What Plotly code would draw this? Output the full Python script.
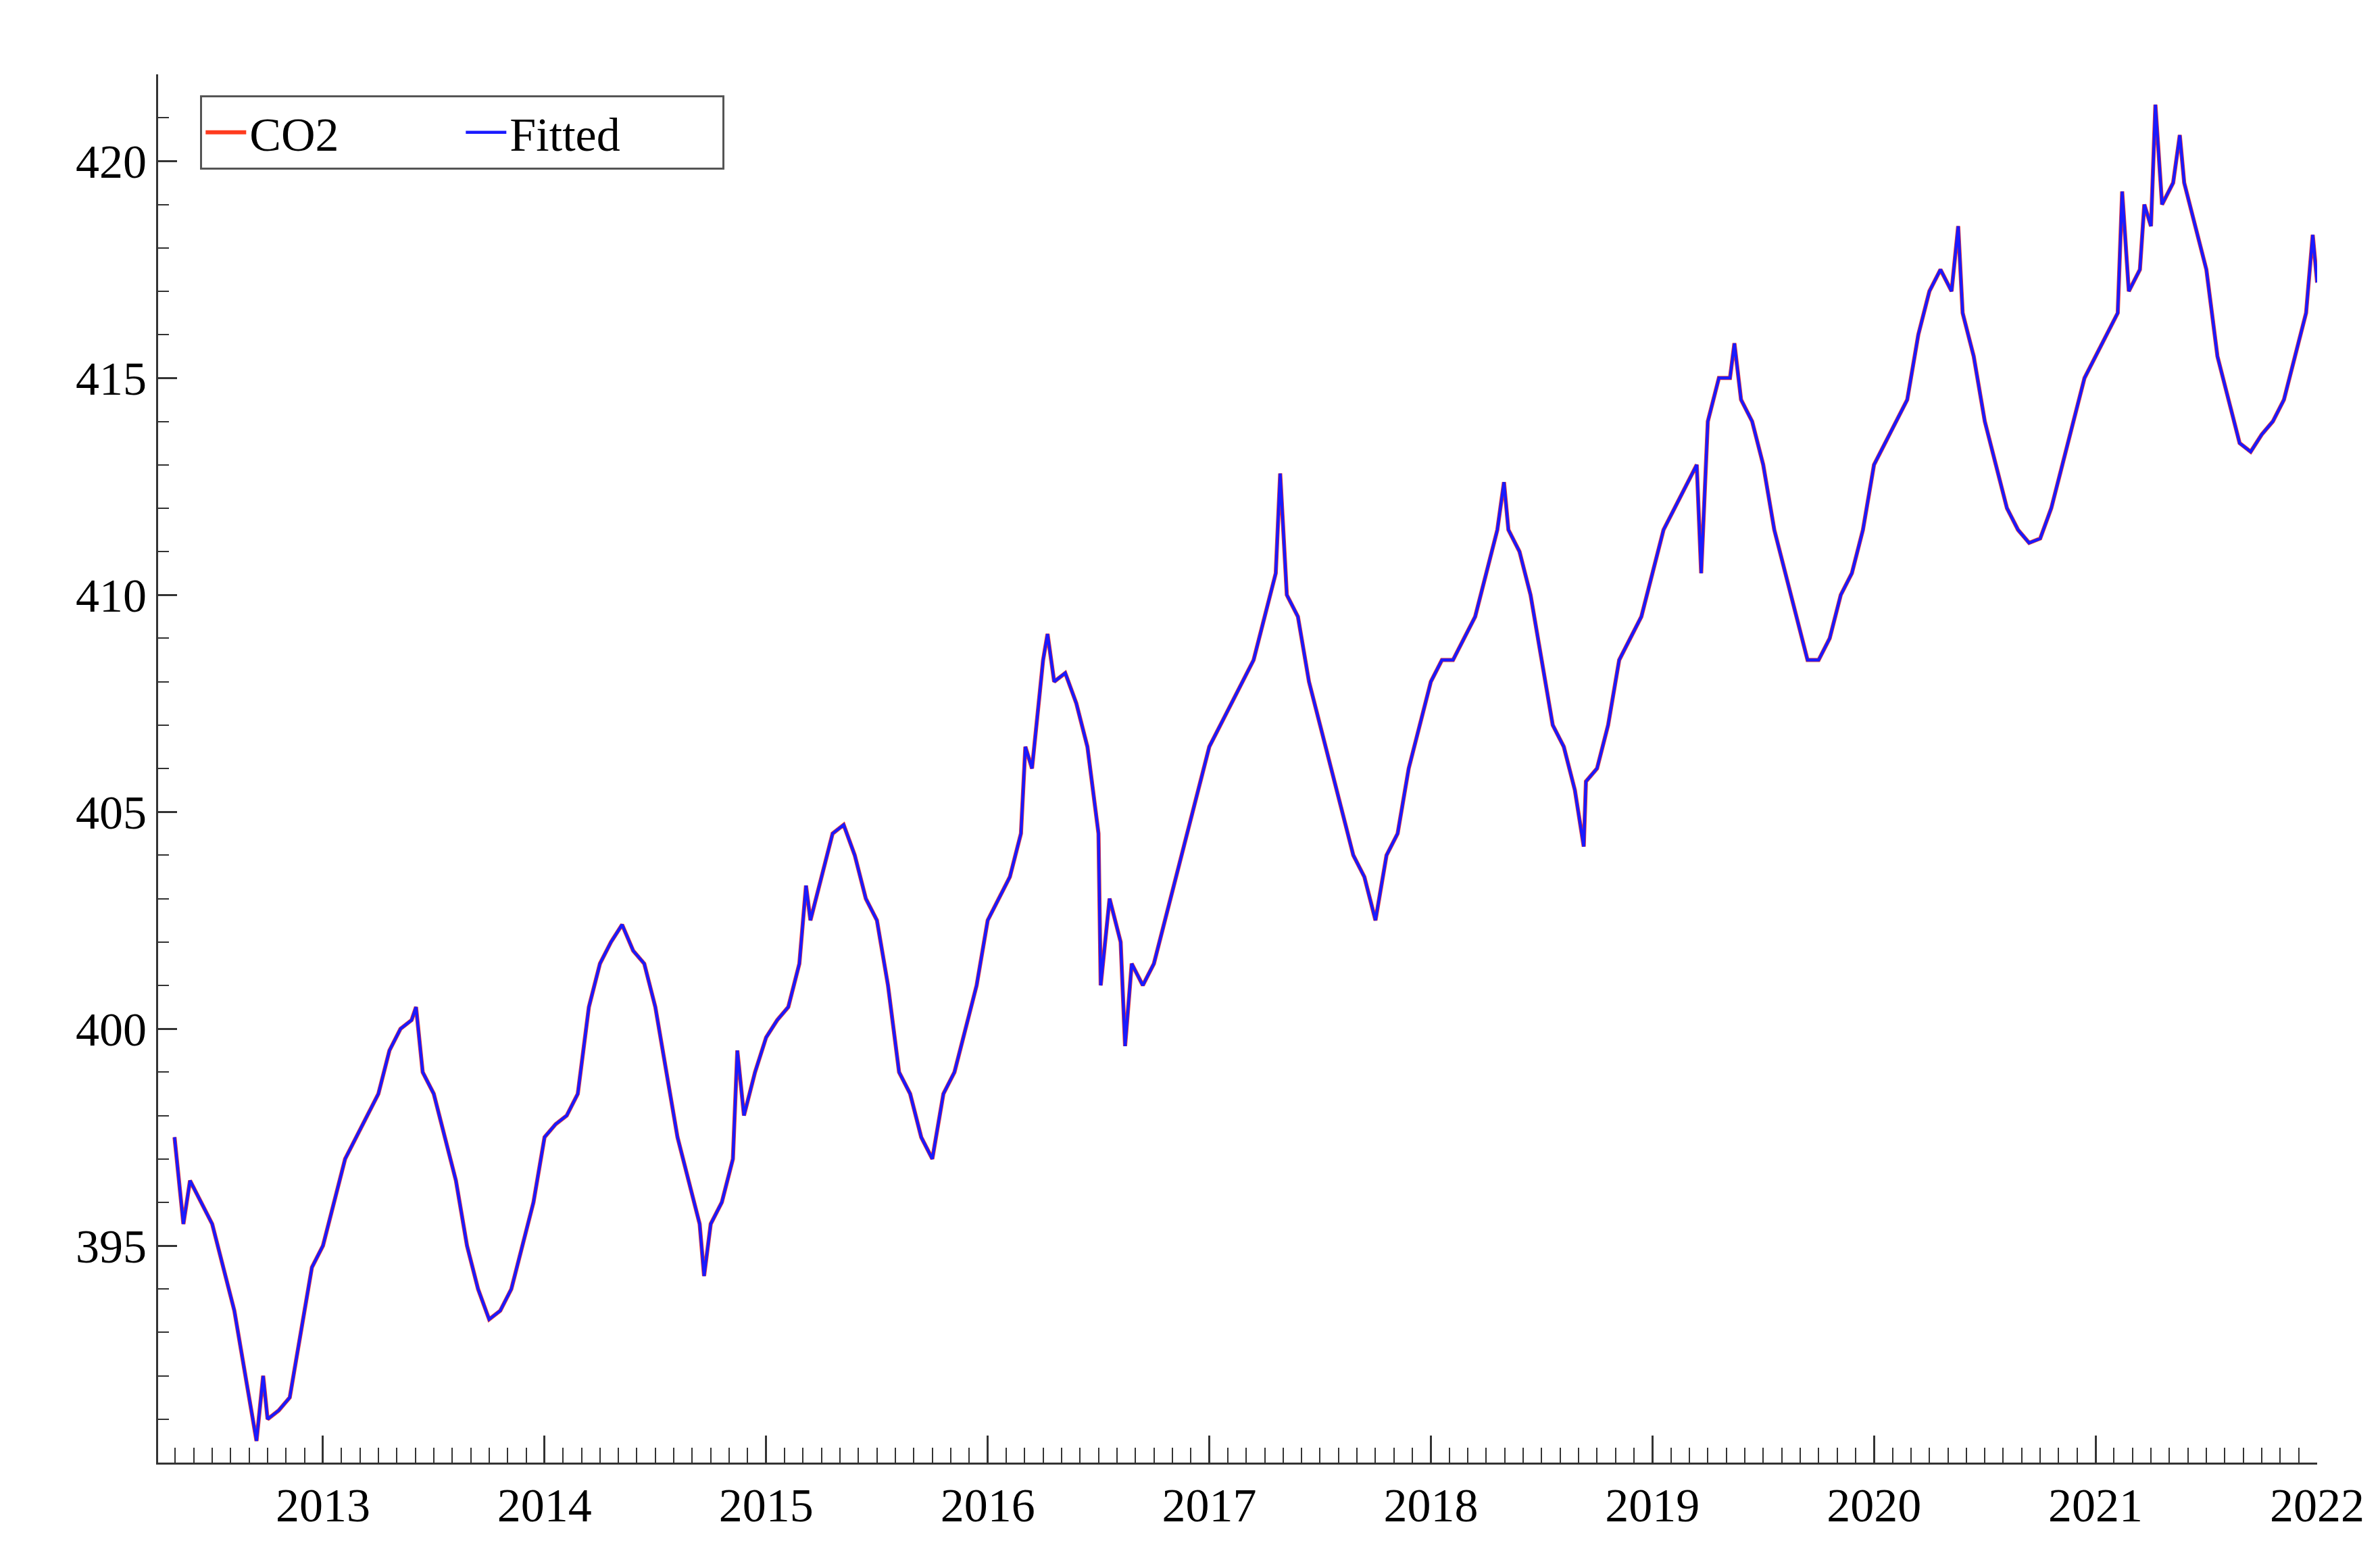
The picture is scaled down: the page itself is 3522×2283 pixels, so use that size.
import plotly.graph_objects as go

# weekly-ish CO2 readings (decimal year, ppm)
dates = [
    2012.33, 2012.37, 2012.40, 2012.45, 2012.50, 2012.55, 2012.60, 2012.65, 2012.70, 2012.73,
    2012.75, 2012.80, 2012.85, 2012.90, 2012.95, 2013.00, 2013.05, 2013.10, 2013.15, 2013.20,
    2013.25, 2013.30, 2013.35, 2013.40, 2013.42, 2013.45, 2013.50, 2013.55, 2013.60, 2013.65,
    2013.70, 2013.75, 2013.80, 2013.85, 2013.90, 2013.95, 2014.00, 2014.05, 2014.10, 2014.15,
    2014.20, 2014.25, 2014.30, 2014.35, 2014.40, 2014.45, 2014.50, 2014.55, 2014.60, 2014.65,
    2014.70, 2014.72, 2014.75, 2014.80, 2014.85, 2014.87, 2014.90, 2014.95, 2015.00, 2015.05,
    2015.10, 2015.15, 2015.18, 2015.20, 2015.25, 2015.30, 2015.35, 2015.40, 2015.45, 2015.50,
    2015.55, 2015.60, 2015.65, 2015.70, 2015.75, 2015.80, 2015.85, 2015.90, 2015.95, 2016.00,
    2016.05, 2016.10, 2016.15, 2016.17, 2016.20, 2016.25, 2016.27, 2016.30, 2016.35, 2016.40,
    2016.45, 2016.50, 2016.51, 2016.55, 2016.60, 2016.62, 2016.65, 2016.70, 2016.75, 2016.80,
    2016.85, 2016.90, 2016.95, 2017.00, 2017.05, 2017.10, 2017.15, 2017.20, 2017.25, 2017.30,
    2017.32, 2017.35, 2017.40, 2017.45, 2017.50, 2017.55, 2017.60, 2017.65, 2017.70, 2017.75,
    2017.80, 2017.85, 2017.90, 2017.95, 2018.00, 2018.05, 2018.10, 2018.15, 2018.20, 2018.25,
    2018.30, 2018.33, 2018.35, 2018.40, 2018.45, 2018.50, 2018.55, 2018.60, 2018.65, 2018.69,
    2018.70, 2018.75, 2018.80, 2018.85, 2018.90, 2018.95, 2019.00, 2019.05, 2019.10, 2019.15,
    2019.20, 2019.22, 2019.25, 2019.30, 2019.35, 2019.37, 2019.40, 2019.45, 2019.50, 2019.55,
    2019.60, 2019.65, 2019.70, 2019.75, 2019.80, 2019.85, 2019.90, 2019.95, 2020.00, 2020.05,
    2020.10, 2020.15, 2020.20, 2020.25, 2020.30, 2020.35, 2020.38, 2020.40, 2020.45, 2020.50,
    2020.55, 2020.60, 2020.65, 2020.70, 2020.75, 2020.80, 2020.85, 2020.90, 2020.95, 2021.00,
    2021.05, 2021.10, 2021.12, 2021.15, 2021.20, 2021.22, 2021.25, 2021.27, 2021.30, 2021.35,
    2021.38, 2021.40, 2021.45, 2021.50, 2021.55, 2021.60, 2021.65, 2021.70, 2021.75, 2021.80,
    2021.85, 2021.90, 2021.95, 2021.98, 2022.00,
]
co2 = [
    397.5, 395.5, 396.5, 396.0, 395.5, 394.5, 393.5, 392.0, 390.5, 392.0,
    391.0, 391.2, 391.5, 393.0, 394.5, 395.0, 396.0, 397.0, 397.5, 398.0,
    398.5, 399.5, 400.0, 400.2, 400.5, 399.0, 398.5, 397.5, 396.5, 395.0,
    394.0, 393.3, 393.5, 394.0, 395.0, 396.0, 397.5, 397.8, 398.0, 398.5,
    400.5, 401.5, 402.0, 402.4, 401.8, 401.5, 400.5, 399.0, 397.5, 396.5,
    395.5, 394.3, 395.5, 396.0, 397.0, 399.5, 398.0, 399.0, 399.8, 400.2,
    400.5, 401.5, 403.3, 402.5, 403.5, 404.5, 404.7, 404.0, 403.0, 402.5,
    401.0, 399.0, 398.5, 397.5, 397.0, 398.5, 399.0, 400.0, 401.0, 402.5,
    403.0, 403.5, 404.5, 406.5, 406.0, 408.5, 409.1, 408.0, 408.2, 407.5,
    406.5, 404.5, 401.0, 403.0, 402.0, 399.6, 401.5, 401.0, 401.5, 402.5,
    403.5, 404.5, 405.5, 406.5, 407.0, 407.5, 408.0, 408.5, 409.5, 410.5,
    412.8, 410.0, 409.5, 408.0, 407.0, 406.0, 405.0, 404.0, 403.5, 402.5,
    404.0, 404.5, 406.0, 407.0, 408.0, 408.5, 408.5, 409.0, 409.5, 410.5,
    411.5, 412.6, 411.5, 411.0, 410.0, 408.5, 407.0, 406.5, 405.5, 404.2,
    405.7, 406.0, 407.0, 408.5, 409.0, 409.5, 410.5, 411.5, 412.0, 412.5,
    413.0, 410.5, 414.0, 415.0, 415.0, 415.8, 414.5, 414.0, 413.0, 411.5,
    410.5, 409.5, 408.5, 408.5, 409.0, 410.0, 410.5, 411.5, 413.0, 413.5,
    414.0, 414.5, 416.0, 417.0, 417.5, 417.0, 418.5, 416.5, 415.5, 414.0,
    413.0, 412.0, 411.5, 411.2, 411.3, 412.0, 413.0, 414.0, 415.0, 415.5,
    416.0, 416.5, 419.3, 417.0, 417.5, 419.0, 418.5, 421.3, 419.0, 419.5,
    420.6, 419.5, 418.5, 417.5, 415.5, 414.5, 413.5, 413.3, 413.7, 414.0,
    414.5, 415.5, 416.5, 418.3, 417.2,
]
fitted = list(co2)

YEAR_TICKS = list(range(2013, 2023))
Y_TICKS = [395, 400, 405, 410, 415, 420]

FONT = "Liberation Serif"

fig = go.Figure()
fig.add_trace(go.Scatter(x=dates, y=co2, mode="lines", name="CO2",
                         line={"color": "#ff3b1f", "width": 6}))
fig.add_trace(go.Scatter(x=dates, y=fitted, mode="lines", name="Fitted",
                         line={"color": "#1a1aff", "width": 4.5}))

axis_common = dict(showgrid=False, zeroline=False, showline=True, linecolor="#333",
                   linewidth=3, ticks="inside", tickcolor="#333", tickwidth=3,
                   tickfont={"family": FONT, "size": 70, "color": "black"})
fig.update_layout(
    width=3522, height=2283,
    paper_bgcolor="white", plot_bgcolor="white",
    margin={"l": 226, "r": 101, "t": 102, "b": 127},
    font={"family": FONT, "color": "black"},
    xaxis=dict(axis_common, range=[2012.256, 2022.0], tickvals=YEAR_TICKS, ticklen=40,
               minor={"dtick": 1 / 12, "tick0": 2013, "ticks": "inside", "ticklen": 22,
                      "tickwidth": 2, "tickcolor": "#333"}),
    yaxis=dict(axis_common, range=[390.0, 422.0], tickvals=Y_TICKS, ticklen=28,
               minor={"dtick": 1, "tick0": 390, "ticks": "inside", "ticklen": 16,
                      "tickwidth": 2, "tickcolor": "#333"}),
    legend={"x": 0.0195, "y": 0.985, "xanchor": "left", "yanchor": "top",
            "orientation": "h", "bordercolor": "#555", "borderwidth": 3,
            "bgcolor": "white", "font": {"family": FONT, "size": 70},
            "entrywidth": 310, "itemwidth": 60},
)

fig.write_html("out.html")
